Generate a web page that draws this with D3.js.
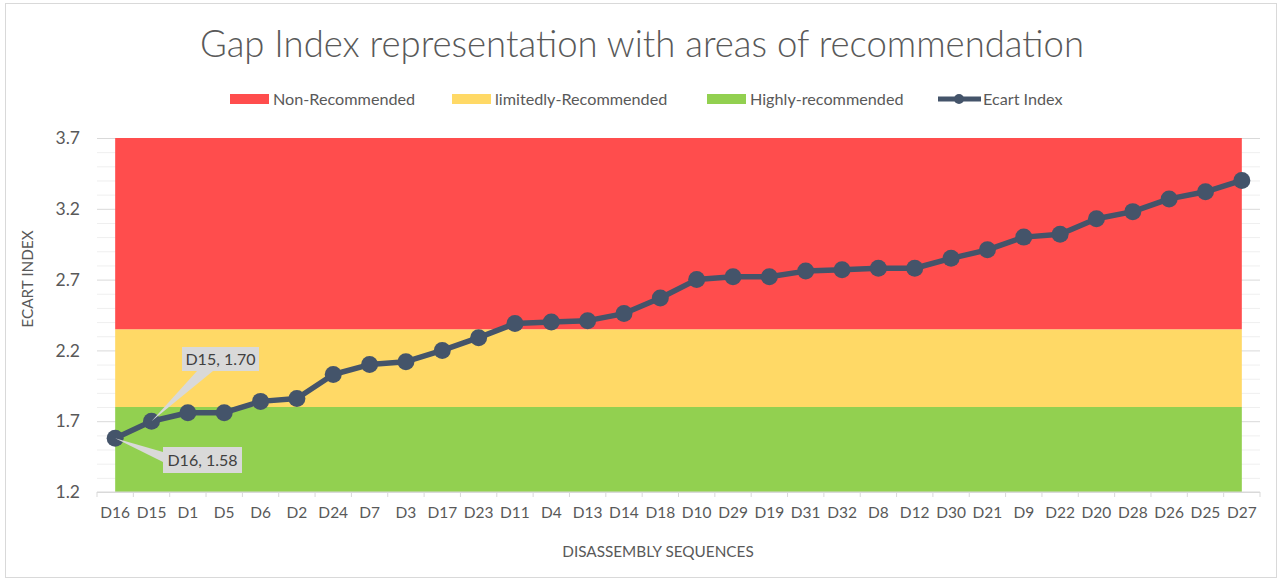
<!DOCTYPE html>
<html>
<head>
<meta charset="utf-8">
<script src="https://cdn.jsdelivr.net/npm/d3@7"></script>
<style>
  body { margin: 0; background: #fff; }
  svg text { font-family: Lato, "Open Sans", sans-serif; fill: #595959; }
</style>
</head>
<body>
<svg id="chart" width="1282" height="582"></svg>
<script>
// data
const categories = ["D16","D15","D1","D5","D6","D2","D24","D7","D3","D17","D23","D11","D4","D13","D14","D18",
                    "D10","D29","D19","D31","D32","D8","D12","D30","D21","D9","D22","D20","D28","D26","D25","D27"];
const ecartIndex = [1.58,1.70,1.76,1.76,1.84,1.86,2.03,2.10,2.12,2.20,2.29,2.39,2.40,2.41,2.46,2.57,
                    2.70,2.72,2.72,2.76,2.77,2.78,2.78,2.85,2.91,3.00,3.02,3.13,3.18,3.27,3.32,3.40];
const zoneNames  = ["Highly-recommended","limitedly-Recommended","Non-Recommended"];
const zoneTops   = [1.80, 2.35, 3.70];   // upper edge of each area
const yTicks     = [1.2, 1.7, 2.2, 2.7, 3.2, 3.7];
const yMinor     = d3.range(12, 38).map(v => v / 10);
const labelled   = ["D16","D15"];

const zoneColor = {"Highly-recommended":"#92D050","limitedly-Recommended":"#FFD966","Non-Recommended":"#FF4D4D"};
const lineColor = "#44546A";

const svg = d3.select("#chart");
const W = 1282, H = 582;
const M = {left: 97, right: 1260, top: 138, bottom: 492};

// outer frame
svg.append("rect").attr("x", 5.5).attr("y", 3.5).attr("width", W - 11).attr("height", H - 8)
  .attr("fill", "#fff").attr("stroke", "#d9d9d9");

const x = d3.scaleBand().domain(categories).range([M.left, M.right]).paddingInner(0).paddingOuter(0);
const cx = d => x(d) + x.bandwidth() / 2;
const y = d3.scaleLinear().domain([1.2, 3.7]).range([M.bottom, M.top]);

// gridlines (mostly hidden by the areas)
svg.append("g").attr("transform", `translate(${M.left},0)`)
  .call(d3.axisLeft(y).tickValues(yMinor.filter(v => !yTicks.includes(v))).tickSize(-(M.right - M.left)).tickFormat(""))
  .call(g => g.select(".domain").remove())
  .call(g => g.selectAll("line").attr("stroke", "#efefef"));
svg.append("g").attr("transform", `translate(${M.left},0)`)
  .call(d3.axisLeft(y).tickValues(yTicks).tickSize(-(M.right - M.left)).tickFormat(""))
  .call(g => g.select(".domain").remove())
  .call(g => g.selectAll("line").attr("stroke", "#d9d9d9"));

// recommendation areas, stacked from the bottom
const zoneRows = categories.map(c => {
  const r = {cat: c};
  zoneNames.forEach((n, i) => r[n] = zoneTops[i] - (i ? zoneTops[i - 1] : 1.2));
  return r;
});
const stack = d3.stack().keys(zoneNames)(zoneRows);
const area = d3.area().x(d => cx(d.data.cat)).y0(d => y(1.2 + d[0])).y1(d => y(1.2 + d[1]));
svg.append("g").selectAll("path").data(stack).join("path")
  .attr("d", area).attr("fill", d => zoneColor[d.key]);

// y labels
svg.append("g").attr("transform", `translate(${M.left},0)`)
  .call(d3.axisLeft(y).tickValues(yTicks).tickSize(0).tickPadding(17).tickFormat(d3.format(".1f")))
  .call(g => g.select(".domain").remove())
  .call(g => g.selectAll("text").attr("font-size", 17.5).style("fill", "#595959"));

// x axis
const xa = svg.append("g").attr("transform", `translate(0,${M.bottom})`);
xa.append("line").attr("x1", M.left).attr("x2", M.right).attr("stroke", "#d9d9d9");
xa.selectAll(".tk").data(categories.concat(["end"])).join("line").attr("class", "tk")
  .attr("x1", d => d === "end" ? M.right : x(d)).attr("x2", d => d === "end" ? M.right : x(d))
  .attr("y1", 0).attr("y2", 5).attr("stroke", "#d9d9d9");
xa.call(d3.axisBottom(x).tickSize(0).tickPadding(15))
  .call(g => g.select(".domain").remove())
  .call(g => g.selectAll("text").attr("font-size", 15.5).style("fill", "#595959"));

// series line
svg.append("path").datum(ecartIndex)
  .attr("d", d3.line().x((d, i) => cx(categories[i])).y(d => y(d)))
  .attr("fill", "none").attr("stroke", lineColor).attr("stroke-width", 5.5).attr("stroke-linejoin", "round");
svg.append("g").selectAll("circle").data(ecartIndex).join("circle")
  .attr("cx", (d, i) => cx(categories[i])).attr("cy", d => y(d)).attr("r", 8.5).attr("fill", lineColor);

// data callouts
const callouts = [
  {cat: "D15", bx: 182, by: 347, bw: 77, bh: 24, wedge: [[197, 371], [213, 371]]},
  {cat: "D16", bx: 163, by: 447, bw: 79, bh: 26, wedge: [[163, 452], [163, 462]]}
];
callouts.filter(c => labelled.includes(c.cat)).forEach(c => {
  const v = ecartIndex[categories.indexOf(c.cat)];
  const px = cx(c.cat), py = y(v);
  const g = svg.append("g");
  g.append("polygon").attr("points", [[px, py]].concat(c.wedge).map(p => p.join(",")).join(" "))
    .attr("fill", "#d9d9d9");
  g.append("rect").attr("x", c.bx).attr("y", c.by).attr("width", c.bw).attr("height", c.bh).attr("fill", "#d9d9d9");
  g.append("text").attr("x", c.bx + c.bw / 2).attr("y", c.by + c.bh / 2).attr("dy", "0.35em")
    .attr("text-anchor", "middle").attr("font-size", 16).style("fill", "#404040")
    .text(`${c.cat}, ${d3.format(".2f")(v)}`);
});

// title
svg.append("text").attr("x", 642).attr("y", 57).attr("text-anchor", "middle")
  .attr("font-size", 36.5).attr("font-weight", 300).text("Gap Index representation with areas of recommendation");

// legend
const legend = [
  {name: "Non-Recommended", x: 230},
  {name: "limitedly-Recommended", x: 452},
  {name: "Highly-recommended", x: 707},
  {name: "Ecart Index", x: 938, line: true}
];
const lg = svg.append("g");
legend.forEach(l => {
  if (l.line) {
    lg.append("line").attr("x1", l.x).attr("x2", l.x + 43).attr("y1", 99).attr("y2", 99)
      .attr("stroke", lineColor).attr("stroke-width", 5);
    lg.append("circle").attr("cx", l.x + 21).attr("cy", 99).attr("r", 5).attr("fill", lineColor);
    lg.append("text").attr("x", l.x + 45).attr("y", 104.5).attr("font-size", 16.2).text(l.name);
  } else {
    lg.append("rect").attr("x", l.x).attr("y", 94).attr("width", 39).attr("height", 10).attr("fill", zoneColor[l.name]);
    lg.append("text").attr("x", l.x + 43).attr("y", 104.5).attr("font-size", 16.2).text(l.name);
  }
});

// axis titles
svg.append("text").attr("x", 658).attr("y", 557).attr("text-anchor", "middle")
  .attr("font-size", 15.3).text("DISASSEMBLY SEQUENCES");
svg.append("text").attr("transform", "translate(33,279) rotate(-90)").attr("text-anchor", "middle")
  .attr("font-size", 15.3).text("ECART INDEX");
</script>
</body>
</html>
